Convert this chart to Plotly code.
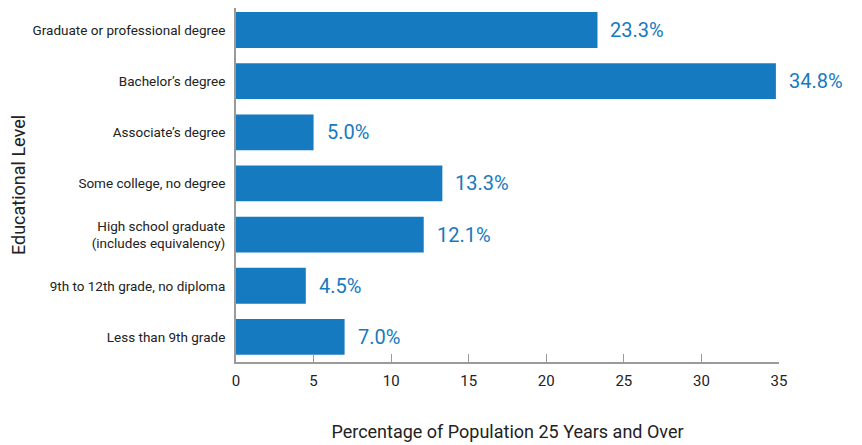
import plotly.graph_objects as go

categories = [
    "Graduate or professional degree",
    "Bachelor’s degree",
    "Associate’s degree",
    "Some college, no degree",
    "High school graduate<br>(includes equivalency)",
    "9th to 12th grade, no diploma",
    "Less than 9th grade",
]
values = [23.3, 34.8, 5.0, 13.3, 12.1, 4.5, 7.0]
value_labels = ["23.3%", "34.8%", "5.0%", "13.3%", "12.1%", "4.5%", "7.0%"]
x_ticks = [0, 5, 10, 15, 20, 25, 30, 35]

FONT = "Roboto"
BLUE = "#167ac0"
DARK = "#222222"

fig = go.Figure()
fig.add_trace(go.Bar(
    y=categories, x=values, orientation="h",
    marker=dict(color=BLUE, line=dict(width=0)),
    width=0.70, hoverinfo="skip",
))

for c, v, t in zip(categories, values, value_labels):
    fig.add_annotation(x=v, y=c, text=t, showarrow=False, xanchor="left",
                       xshift=11, font=dict(family=FONT, size=20, color=BLUE))

fig.update_layout(
    width=854, height=437,
    margin=dict(l=228, r=83, t=0, b=83),
    paper_bgcolor="white", plot_bgcolor="white",
    showlegend=False,
    font=dict(family=FONT, color=DARK),
    xaxis=dict(
        range=[0, 35], tickvals=x_ticks, showgrid=False, zeroline=False,
        showline=True, linecolor="#9a9a9a", linewidth=2, automargin=False,
        ticks="inside", ticklen=8, tickcolor="#9a9a9a", tickwidth=1,
        ticklabelstandoff=4,
        tickfont=dict(family=FONT, size=15, color=DARK),
        title=dict(text="Percentage of Population 25 Years and Over",
                   font=dict(family=FONT, size=18, color=DARK), standoff=36),
    ),
    yaxis=dict(
        range=[6.49, -0.43], showgrid=False, zeroline=False,
        showline=True, linecolor="#9a9a9a", linewidth=2, automargin=False,
        ticks="", ticklabelstandoff=6,
        tickfont=dict(family=FONT, size=13.5, color=DARK),
        title=dict(text="Educational Level",
                   font=dict(family=FONT, size=18, color=DARK), standoff=22),
    ),
)

fig.write_html("out.html")
